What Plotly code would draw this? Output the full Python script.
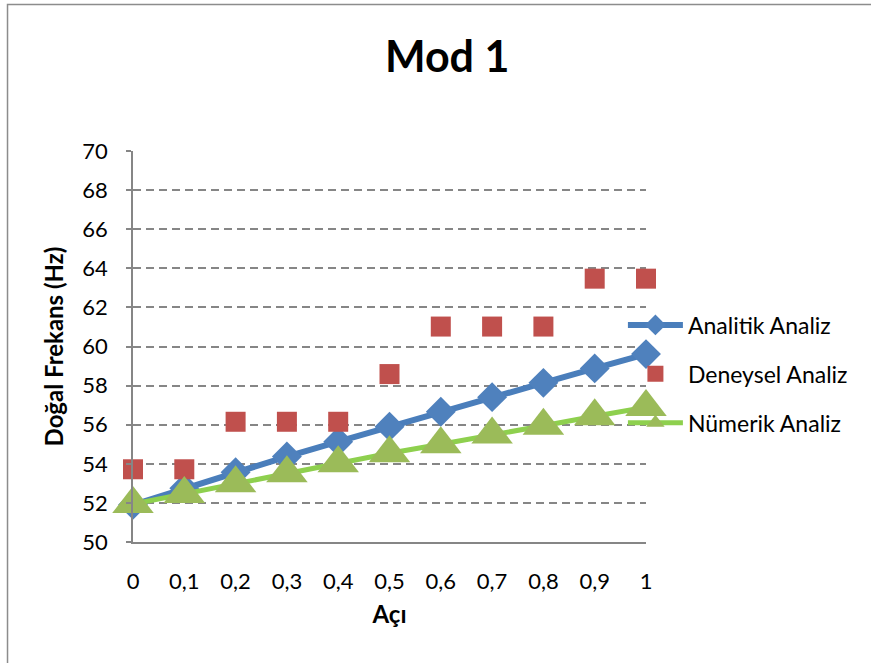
import plotly.graph_objects as go

# Angle categories (comma decimal) and natural frequencies in Hz
aci = ["0", "0,1", "0,2", "0,3", "0,4", "0,5", "0,6", "0,7", "0,8", "0,9", "1"]
analitik = [51.9, 52.75, 53.57, 54.37, 55.13, 55.9, 56.66, 57.41, 58.14, 58.88, 59.61]
deneysel = [53.72, 53.72, 56.15, 56.15, 56.15, 58.59, 61.02, 61.02, 61.02, 63.47, 63.47]
numerik = [51.94, 52.46, 53.01, 53.52, 54.03, 54.54, 55.0, 55.5, 55.95, 56.43, 56.9]
y_ticks = [50, 52, 54, 56, 58, 60, 62, 64, 66, 68, 70]

FONT = "Lato"
GRID = "#868686"

fig = go.Figure()

fig.add_trace(go.Scatter(
    x=aci, y=analitik, name="Analitik Analiz", mode="lines+markers",
    line=dict(color="#4A7EBB", width=6),
    marker=dict(symbol="diamond", size=23, color="#4F81BD"),
    legendgroup="a", cliponaxis=False,
))
fig.add_trace(go.Scatter(
    x=aci, y=deneysel, name="Deneysel Analiz", mode="markers",
    marker=dict(symbol="square", size=20, color="#C0504D"),
    legendgroup="d", cliponaxis=False,
))
fig.add_trace(go.Scatter(
    x=aci, y=numerik, name="Nümerik Analiz", mode="lines+markers",
    line=dict(color="#8ED04E", width=5),
    marker=dict(symbol="triangle-up", size=36, color="#9BBB59"),
    legendgroup="n", cliponaxis=False,
))

# outer chart frame
fig.add_shape(type="rect", xref="paper", yref="paper",
              x0=-0.2446, x1=2.0, y0=-1.0, y1=1.3747,
              line=dict(color="#8C8C8C", width=1.5), layer="below")

fig.update_layout(
    width=871, height=663,
    margin=dict(l=133, r=225, t=151, b=121),
    paper_bgcolor="white", plot_bgcolor="white",
    font=dict(family=FONT, size=22, color="black"),
    title=dict(text="<b>Mod 1</b>", x=0.5134, xanchor="center",
               y=0.914, yanchor="middle", font=dict(size=43, family=FONT)),
    showlegend=True,
    legend=dict(x=0.955, xanchor="left", y=0.61, yanchor="top",
                font=dict(size=23, family=FONT), tracegroupgap=16,
                itemwidth=55, bgcolor="rgba(0,0,0,0)"),
    xaxis=dict(
        type="category", range=[0, 10], showgrid=False,
        showline=True, linecolor=GRID, linewidth=1.5,
        ticks="", ticklabelstandoff=19, tickfont=dict(size=22),
        title=dict(text="<b>Açı</b>", standoff=13, font=dict(size=24)),
        zeroline=False,
    ),
    yaxis=dict(
        range=[50, 70], tickvals=y_ticks, showgrid=True,
        gridcolor=GRID, gridwidth=1.5, griddash="8px,5px",
        showline=True, linecolor=GRID, linewidth=1.5,
        ticks="outside", ticklen=5, tickcolor=GRID, tickwidth=1.5,
        ticklabelstandoff=14, tickfont=dict(size=22),
        title=dict(text="<b>Doğal Frekans (Hz)</b>", standoff=12,
                   font=dict(size=24)),
        zeroline=False,
    ),
)

fig.write_html("out.html")
